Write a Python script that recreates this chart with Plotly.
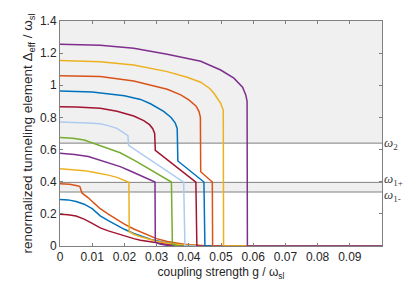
import plotly.graph_objects as go

# level lines (normalized by omega_sl)
omega2 = 0.64
omega1p = 0.396
omega1m = 0.336

# curves: coupling strength g and Delta_eff values
g01 = [0, 0.0025, 0.005, 0.0075, 0.01, 0.0125, 0.015, 0.0177, 0.02, 0.0229, 0.025, 0.0281, 0.03, 0.0333, 0.0385, 0.045, 0.1]
d01 = [0.197, 0.195, 0.187, 0.167, 0.141, 0.113, 0.094, 0.077, 0.062, 0.046, 0.036, 0.025, 0.019, 0.011, 0.004, 0, 0]

g02 = [0, 0.0025, 0.005, 0.0075, 0.01, 0.0125, 0.015, 0.0177, 0.02, 0.0229, 0.025, 0.0281, 0.03, 0.0333, 0.0385, 0.045, 0.1]
d02 = [0.29, 0.287, 0.277, 0.26, 0.232, 0.188, 0.158, 0.126, 0.104, 0.078, 0.062, 0.042, 0.032, 0.019, 0.007, 0, 0]

g03 = [0, 0.003, 0.0057, 0.0062, 0.0068, 0.0088, 0.0105, 0.0125, 0.015, 0.0177, 0.02, 0.0229, 0.025, 0.0281, 0.03, 0.0333, 0.0385, 0.045, 0.1]
d03 = [0.388, 0.384, 0.374, 0.369, 0.33, 0.3, 0.268, 0.232, 0.198, 0.163, 0.136, 0.106, 0.088, 0.06, 0.046, 0.028, 0.011, 0.002, 0]

g04 = [0, 0.005, 0.0075, 0.01, 0.0125, 0.015, 0.0177, 0.0195, 0.0208, 0.0214, 0.0215, 0.0229, 0.025, 0.0281, 0.03, 0.0333, 0.0385, 0.045, 0.1]
d04 = [0.481, 0.475, 0.469, 0.461, 0.452, 0.441, 0.427, 0.414, 0.404, 0.397, 0.089, 0.073, 0.058, 0.039, 0.03, 0.017, 0.006, 0.001, 0]

g05 = [0, 0.0045, 0.0088, 0.0125, 0.0155, 0.0187, 0.0215, 0.0245, 0.027, 0.0288, 0.0295, 0.0296, 0.031, 0.033, 0.036, 0.1]
d05 = [0.577, 0.57, 0.557, 0.535, 0.516, 0.494, 0.47, 0.444, 0.422, 0.405, 0.398, 0.023, 0.012, 0.005, 0, 0]

g06 = [0, 0.004, 0.0075, 0.0099, 0.0125, 0.015, 0.0187, 0.0234, 0.0281, 0.0315, 0.0346, 0.0349, 0.037, 0.1]
d06 = [0.675, 0.671, 0.66, 0.643, 0.627, 0.61, 0.58, 0.53, 0.475, 0.437, 0.398, 0.01, 0, 0]

g07 = [0, 0.005, 0.0088, 0.0125, 0.015, 0.0177, 0.0192, 0.0205, 0.0211, 0.0213, 0.0234, 0.03, 0.0384, 0.0388, 0.1]
d07 = [0.772, 0.77, 0.766, 0.76, 0.749, 0.732, 0.714, 0.697, 0.687, 0.626, 0.598, 0.51, 0.398, 0, 0]

g08 = [0, 0.005, 0.0125, 0.0177, 0.0229, 0.026, 0.0278, 0.0288, 0.0294, 0.0296, 0.0422, 0.0425, 0.1]
d08 = [0.867, 0.865, 0.857, 0.838, 0.809, 0.78, 0.755, 0.73, 0.70, 0.595, 0.398, 0, 0]

g09 = [0, 0.01, 0.02, 0.025, 0.0281, 0.0322, 0.0345, 0.0358, 0.0364, 0.0366, 0.0447, 0.045, 0.1]
d09 = [0.965, 0.958, 0.935, 0.912, 0.885, 0.838, 0.80, 0.765, 0.73, 0.529, 0.398, 0, 0]

g10 = [0, 0.0125, 0.0229, 0.0333, 0.0375, 0.040, 0.0423, 0.0432, 0.0436, 0.0437, 0.0473, 0.0474, 0.1]
d10 = [1.06, 1.054, 1.027, 0.975, 0.94, 0.909, 0.87, 0.835, 0.80, 0.462, 0.398, 0, 0]

g11 = [0, 0.0125, 0.0229, 0.0333, 0.0395, 0.0437, 0.0465, 0.0478, 0.0499, 0.0507, 0.0508, 0.1]
d11 = [1.155, 1.147, 1.126, 1.085, 1.05, 1.019, 0.98, 0.95, 0.888, 0.846, 0, 0]

g12 = [0, 0.0125, 0.0229, 0.0333, 0.0437, 0.0499, 0.054, 0.0567, 0.0577, 0.0581, 0.0582, 0.1]
d12 = [1.255, 1.249, 1.23, 1.193, 1.149, 1.095, 1.044, 0.988, 0.94, 0.90, 0, 0]

colors = ["#A2142F", "#0072BD", "#D95319", "#EDB120", "#7E2F8E", "#77AC30", "#AECBF0",
          "#A2142F", "#0072BD", "#D95319", "#EDB120", "#7E2F8E"]
curves = [(g01, d01), (g02, d02), (g03, d03), (g04, d04), (g05, d05), (g06, d06),
          (g07, d07), (g08, d08), (g09, d09), (g10, d10), (g11, d11), (g12, d12)]

x_ticks = [0, 0.01, 0.02, 0.03, 0.04, 0.05, 0.06, 0.07, 0.08, 0.09]
x_ticklabels = ["0", "0.01", "0.02", "0.03", "0.04", "0.05", "0.06", "0.07", "0.08", "0.09"]
y_ticks = [0, 0.2, 0.4, 0.6, 0.8, 1.0, 1.2, 1.4]
y_ticklabels = ["0", "0.2", "0.4", "0.6", "0.8", "1", "1.2", "1.4"]

fig = go.Figure()
for (gx, dy), c in zip(curves, colors):
    fig.add_trace(go.Scatter(x=gx, y=dy, mode="lines", line=dict(color=c, width=1.5),
                             showlegend=False, hoverinfo="skip"))

# shaded regions
fig.add_shape(type="rect", xref="x", yref="y", x0=0, x1=0.1, y0=omega2, y1=1.4,
              fillcolor="#f0f0f0", line=dict(width=0), layer="below")
fig.add_shape(type="rect", xref="x", yref="y", x0=0, x1=0.1, y0=omega1m, y1=omega1p,
              fillcolor="#f0f0f0", line=dict(width=0), layer="below")
for lv in (omega2, omega1p, omega1m):
    fig.add_shape(type="line", xref="x", yref="y", x0=0, x1=0.1, y0=lv, y1=lv,
                  line=dict(color="#808080", width=1), layer="below")

lab_font = dict(family="Liberation Serif", size=13, color="#404040")
for lv, txt, yshift in ((omega2, "<i>ω</i><sub>2</sub>", 0),
                        (omega1p, "<i>ω</i><sub>1+</sub>", 3),
                        (omega1m, "<i>ω</i><sub>1-</sub>", -3)):
    fig.add_annotation(x=1, xref="paper", y=lv, yref="y", text=txt, showarrow=False,
                       xanchor="left", yanchor="middle", xshift=0, yshift=yshift, font=lab_font)

axis_common = dict(showline=True, linecolor="#808080", linewidth=1, mirror="ticks",
                   ticks="inside", ticklen=3, tickcolor="#808080", showgrid=False,
                   zeroline=False, automargin=False,
                   tickfont=dict(family="Liberation Sans", size=12, color="#262626"))

fig.update_xaxes(range=[0, 0.1], tickvals=x_ticks, ticktext=x_ticklabels,
                 title=dict(text="coupling strength g / ω<sub>sl</sub>",
                            font=dict(family="Liberation Sans", size=12, color="#262626"), standoff=4),
                 **axis_common)
fig.update_yaxes(range=[0, 1.4], tickvals=y_ticks, ticktext=y_ticklabels,
                 title=dict(text="renormalized tunneling element Δ<sub>eff</sub> / ω<sub>sl</sub>",
                            font=dict(family="Liberation Sans", size=13.5, color="#262626"), standoff=4),
                 **axis_common)

fig.update_layout(width=415, height=287, margin=dict(l=60, r=33, t=21, b=41),
                  plot_bgcolor="white", paper_bgcolor="white")

fig.write_html("out.html", config={"displayModeBar": False},
               post_script="document.body.style.margin='0';document.body.style.padding='0';")
